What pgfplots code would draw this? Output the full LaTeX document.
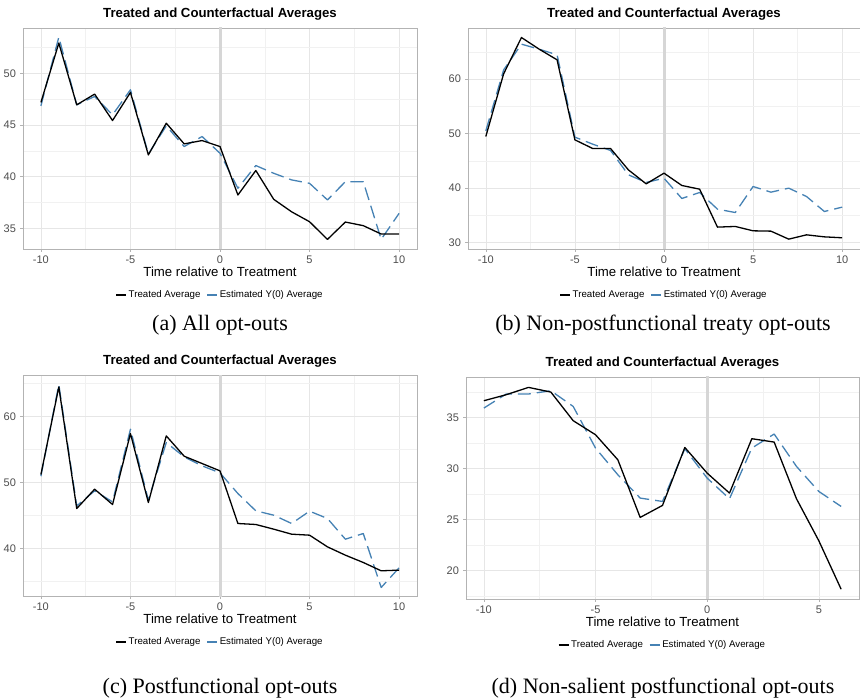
\documentclass[border=0pt]{standalone}
\usepackage{fontspec}
\setmainfont{Liberation Sans}
\newfontfamily\capfont{Liberation Serif}
\usepackage{pgfplots}
\pgfplotsset{compat=1.18}
\definecolor{steel}{RGB}{70,130,180}
\definecolor{tickgray}{RGB}{77,77,77}
\definecolor{bordergray}{RGB}{179,179,179}
\definecolor{gridgray}{RGB}{230,230,230}
\definecolor{mgridgray}{RGB}{241,241,241}
\definecolor{vgray}{RGB}{214,214,214}

\pgfplotsset{
  panel/.style={
    scale only axis,
    anchor=north west,
    axis line style={draw=bordergray, line width=0.9pt},
    grid=both,
    major grid style={draw=gridgray, line width=0.6pt},
    minor grid style={draw=mgridgray, line width=0.4pt},
    tick align=outside,
    tick pos=left,
    major tick length=3pt,
    minor tick length=0pt,
    tick style={draw=bordergray, line width=0.6pt},
    ticklabel style={font=\fontsize{11}{13}\selectfont, text=tickgray},
    xticklabel style={yshift=0pt},
    yticklabel style={xshift=-0.5pt},
    title={Treated and Counterfactual Averages},
    title style={at={(0.5,1)}, anchor=center, yshift=8pt, font=\fontsize{13.2}{15}\selectfont\bfseries},
    xlabel={Time relative to Treatment},
    xlabel style={at={(0.5,0)}, anchor=center, yshift=-22.5pt, font=\fontsize{13.2}{15}\selectfont},
    legend style={at={(0.5,0)}, anchor=center, yshift=-46pt, draw=none, fill=none,
      font=\fontsize{9.7}{11}\selectfont, legend columns=2,
      /tikz/every even column/.append style={column sep=4pt}},
    legend cell align=left,
    legend image code/.code={\draw[#1, solid] (0pt,0pt) -- (10pt,0pt);},
  },
  xfull/.style={xmin=-11, xmax=11, xtick={-10,-5,0,5,10}, xticklabels={-10,-5,0,5,10},
    minor xtick={-7.5,-2.5,2.5,7.5}},
}
\tikzset{
  treated/.style={draw=black, line width=1.3pt, line join=round},
  est/.style={draw=steel, line width=1.3pt, dash pattern=on 13pt off 6pt, line join=round},
  vline/.style={draw=vgray, line width=3pt},
}

\begin{document}
\begin{tikzpicture}[x=1pt,y=1pt]
\useasboundingbox (0,0) rectangle (860,-698);

% (a)
\begin{axis}[panel, xfull, at={(23pt,-28pt)}, width=394pt, height=221pt,
  ymin=33.0, ymax=54.4, ytick={35,40,45,50}, yticklabels={35,40,45,50},
  minor ytick={37.5,42.5,47.5,52.5}]
\addplot[vline, forget plot] coordinates {(0,0) (0,100)};
\addplot[est, forget plot] coordinates {(-10,46.86) (-9,53.52) (-8,46.96) (-7,47.77) (-6,45.99) (-5,48.42) (-4,42.2) (-3,44.92) (-2,42.92) (-1,43.89) (0,42.27) (1,38.88) (2,41.08) (3,40.33) (4,39.69) (5,39.36) (6,37.75) (7,39.52) (8,39.52) (9,33.93) (10,36.45)};
\addplot[treated, forget plot] coordinates {(-10,47.19) (-9,52.94) (-8,46.96) (-7,48.0) (-6,45.44) (-5,48.16) (-4,42.11) (-3,45.18) (-2,43.18) (-1,43.5) (0,42.92) (1,38.23) (2,40.6) (3,37.81) (4,36.6) (5,35.64) (6,33.93) (7,35.61) (8,35.26) (9,34.45) (10,34.45)};
\addlegendimage{black, line width=1.3pt}\addlegendentry{Treated Average}
\addlegendimage{steel, line width=1.3pt}\addlegendentry{Estimated Y(0) Average}
\end{axis}

% (b)
\begin{axis}[panel, xfull, at={(468pt,-28pt)}, width=392pt, height=221pt,
  ymin=28.8, ymax=69.4, ytick={30,40,50,60}, yticklabels={30,40,50,60},
  minor ytick={35,45,55,65}]
\addplot[vline, forget plot] coordinates {(0,0) (0,100)};
\addplot[est, forget plot] coordinates {(-10,50.5) (-9,61.7) (-8,66.43) (-7,65.5) (-6,64.47) (-5,49.35) (-4,48.06) (-3,46.9) (-2,42.43) (-1,41.02) (0,41.8) (1,38.08) (2,39.18) (3,36.12) (4,35.5) (5,40.28) (6,39.24) (7,39.98) (8,38.44) (9,35.69) (10,36.49)};
\addplot[treated, forget plot] coordinates {(-10,49.47) (-9,60.98) (-8,67.65) (-7,65.5) (-6,63.55) (-5,48.85) (-4,47.26) (-3,47.26) (-2,43.34) (-1,40.77) (0,42.73) (1,40.47) (2,39.79) (3,32.82) (4,32.94) (5,32.14) (6,32.08) (7,30.61) (8,31.4) (9,31.03) (10,30.86)};
\addlegendimage{black, line width=1.3pt}\addlegendentry{Treated Average}
\addlegendimage{steel, line width=1.3pt}\addlegendentry{Estimated Y(0) Average}
\end{axis}

% (c)
\begin{axis}[panel, xfull, at={(23pt,-375pt)}, width=394pt, height=221pt,
  ymin=32.8, ymax=66.3, ytick={40,50,60}, yticklabels={40,50,60},
  minor ytick={35,45,55,65}]
\addplot[vline, forget plot] coordinates {(0,0) (0,100)};
\addplot[est, forget plot] coordinates {(-10,50.96) (-9,64.85) (-8,46.46) (-7,48.74) (-6,47.07) (-5,58.08) (-4,47.32) (-3,56.06) (-2,53.89) (-1,52.53) (0,51.46) (1,48.33) (2,45.71) (3,45.05) (4,43.79) (5,45.66) (6,44.55) (7,41.41) (8,42.27) (9,34.09) (10,37.07)};
\addplot[treated, forget plot] coordinates {(-10,51.21) (-9,64.49) (-8,46.06) (-7,48.99) (-6,46.67) (-5,57.42) (-4,46.97) (-3,57.07) (-2,53.99) (-1,52.88) (0,51.77) (1,43.79) (2,43.64) (3,42.93) (4,42.17) (5,42.02) (6,40.25) (7,38.99) (8,37.88) (9,36.62) (10,36.72)};
\addlegendimage{black, line width=1.3pt}\addlegendentry{Treated Average}
\addlegendimage{steel, line width=1.3pt}\addlegendentry{Estimated Y(0) Average}
\end{axis}

% (d)
\begin{axis}[panel, at={(466pt,-377pt)}, width=393pt, height=222pt,
  xmin=-10.8, xmax=6.8, xtick={-10,-5,0,5}, xticklabels={-10,-5,0,5},
  minor xtick={-7.5,-2.5,2.5},
  ymin=17.2, ymax=39.0, ytick={20,25,30,35}, yticklabels={20,25,30,35},
  minor ytick={17.5,22.5,27.5,32.5,37.5}]
\addplot[vline, forget plot] coordinates {(0,0) (0,100)};
\addplot[est, forget plot] coordinates {(-10,35.95) (-9,37.33) (-8,37.33) (-7,37.65) (-6,36.11) (-5,32.02) (-4,29.4) (-3,27.11) (-2,26.78) (-1,31.95) (0,29.07) (1,27.04) (2,32.02) (3,33.4) (4,30.22) (5,27.76) (6,26.29)};
\addplot[treated, forget plot] coordinates {(-10,36.67) (-9,37.26) (-8,37.98) (-7,37.52) (-6,34.71) (-5,33.33) (-4,30.87) (-3,25.21) (-2,26.39) (-1,32.08) (0,29.56) (1,27.6) (2,32.94) (3,32.61) (4,27.04) (5,22.92) (6,18.16)};
\addlegendimage{black, line width=1.3pt}\addlegendentry{Treated Average}
\addlegendimage{steel, line width=1.3pt}\addlegendentry{Estimated Y(0) Average}
\end{axis}

\node[font=\capfont\fontsize{22}{26}\selectfont] at (220,-325) {(a) All opt-outs};
\node[font=\capfont\fontsize{22}{26}\selectfont] at (663,-325) {(b) Non-postfunctional treaty opt-outs};
\node[font=\capfont\fontsize{22}{26}\selectfont] at (220,-688) {(c) Postfunctional opt-outs};
\node[font=\capfont\fontsize{22}{26}\selectfont] at (663,-688) {(d) Non-salient postfunctional opt-outs};
\end{tikzpicture}
\end{document}
